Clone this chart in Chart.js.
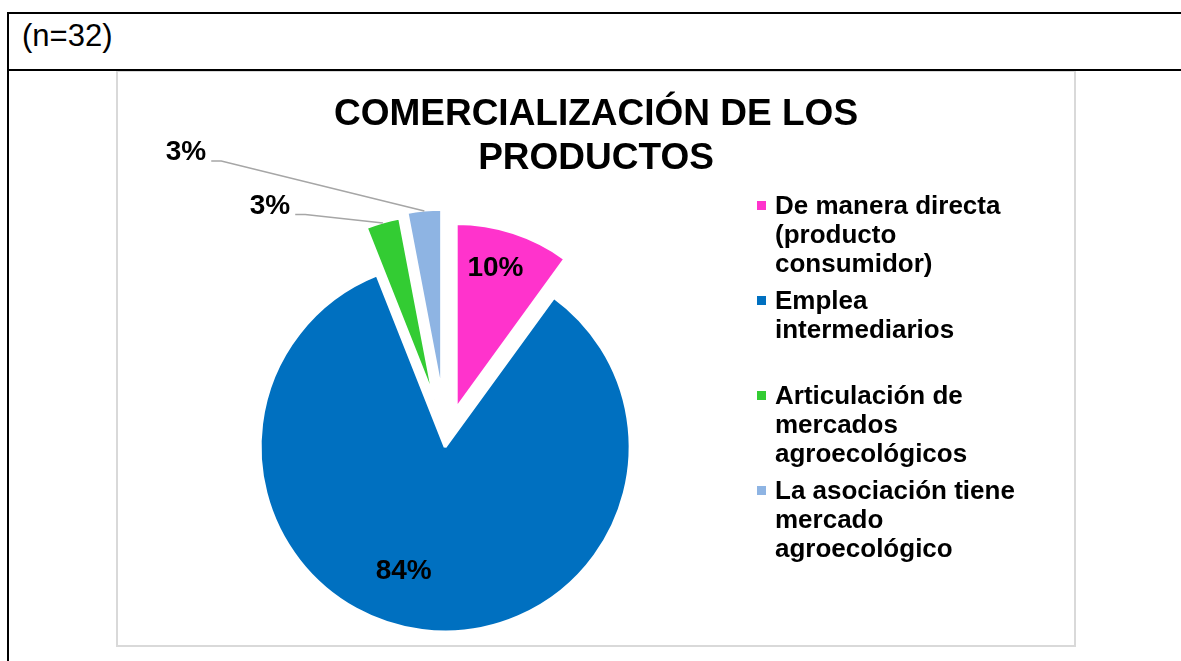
<!DOCTYPE html>
<html>
<head>
<meta charset="utf-8">
<title>Comercialización de los productos</title>
<script src="https://cdn.jsdelivr.net/npm/chart.js@4.4.1/dist/chart.umd.min.js"></script>
<style>
    body { margin: 0; background: #fff; font-family: "Liberation Sans", Arial, sans-serif; }
    #page { position: relative; width: 1181px; height: 661px; overflow: hidden; }
    .rule { position: absolute; background: #000; z-index: 2; }
    #n { position: absolute; left: 22px; top: 20px; font-size: 31px; line-height: 31px; }
    #box { position: absolute; left: 116px; top: 70px; width: 956px; height: 573px; border: 2px solid #d9d9d9; }
    #chartWrap { position: absolute; left: 0; top: 0; width: 956px; height: 573px; }
    #title { position: absolute; left: 0; top: 19px; width: 956px; text-align: center;
        font-weight: bold; font-size: 37px; line-height: 44.4px; color: #000; }
    #legend { position: absolute; left: 639px; top: 118.5px; width: 300px; }
    .item { position: relative; height: 95.3px; padding-left: 18px; }
    .swatch { position: absolute; left: 0; top: 10px; width: 9px; height: 9px; }
    .text { width: 262px; font-size: 26px; font-weight: bold; line-height: 29px; color: #000; }
</style>
</head>
<body>
<div id="page">
    <div class="rule" style="left:7px; top:12px; width:1174px; height:2px;"></div>
    <div class="rule" style="left:7px; top:12px; width:2px; height:649px;"></div>
    <div class="rule" style="left:7px; top:69px; width:1174px; height:2px;"></div>
    <div id="n">(n=32)</div>
    <div id="box">
        <div id="chartWrap"><canvas id="pie"></canvas></div>
        <div id="title"></div>
        <div id="legend"></div>
    </div>
</div>
<script>
const categories = [
    'De manera directa (producto consumidor)',
    'Emplea intermediarios',
    'Articulación de mercados agroecológicos',
    'La asociación tiene mercado agroecológico'
];
const percentages = [10, 84, 3, 3];
const sliceColors = ['#FF33CC', '#0070C0', '#33CC33', '#8EB4E3'];
const titleLines = ['COMERCIALIZACIÓN DE LOS', 'PRODUCTOS'];

// how far each slice is pulled out of the pie (px)
const explode = [33, 7, 42, 46];
// label placement: turn from the slice middle (deg) and distance in radii
const labelTurn = [-2.4, 11.2, -24.1, -41.2];
const labelDist = [0.79, 0.71, 1.373, 1.902];
const hasLeader = [false, false, true, true];

// title
const title = document.getElementById('title');
titleLines.forEach(line => {
    const div = document.createElement('div');
    div.textContent = line;
    title.appendChild(div);
});

// legend
const legend = document.getElementById('legend');
categories.forEach((name, i) => {
    const item = document.createElement('div');
    item.classList.add('item');
    const swatch = document.createElement('span');
    swatch.classList.add('swatch');
    swatch.style.background = sliceColors[i];
    const text = document.createElement('div');
    text.classList.add('text');
    text.textContent = name;
    item.append(swatch, text);
    legend.appendChild(item);
});

const explodePlugin = {
    id: 'explode',
    afterDatasetsUpdate(chart) {
        chart.getDatasetMeta(0).data.forEach((arc, i) => {
            const mid = (arc.startAngle + arc.endAngle) / 2;
            arc.x += Math.cos(mid) * explode[i];
            arc.y += Math.sin(mid) * explode[i];
        });
    }
};

const labelPlugin = {
    id: 'sliceLabels',
    afterDatasetsDraw(chart) {
        const ctx = chart.ctx;
        ctx.save();
        ctx.font = 'bold 28px "Liberation Sans", Arial, sans-serif';
        ctx.textAlign = 'center';
        ctx.textBaseline = 'middle';
        chart.getDatasetMeta(0).data.forEach((arc, i) => {
            const r = arc.outerRadius;
            const mid = (arc.startAngle + arc.endAngle) / 2;
            const a = mid + labelTurn[i] * Math.PI / 180;
            const lx = arc.x + Math.cos(a) * r * labelDist[i];
            const ly = arc.y + Math.sin(a) * r * labelDist[i];
            const text = percentages[i] + '%';
            if (hasLeader[i]) {
                const w = ctx.measureText(text).width;
                const sx = lx + w / 2 + 5;
                const sy = ly + 8.5;
                ctx.strokeStyle = '#a6a6a6';
                ctx.lineWidth = 1.5;
                ctx.beginPath();
                ctx.moveTo(sx, sy);
                ctx.lineTo(sx + 10, sy);
                ctx.lineTo(arc.x + Math.cos(mid) * (r - 1), arc.y + Math.sin(mid) * (r - 1));
                ctx.stroke();
            }
            ctx.fillStyle = '#000';
            ctx.fillText(text, lx, ly);
        });
        ctx.restore();
    }
};

new Chart(document.getElementById('pie'), {
    type: 'pie',
    data: {
        labels: categories,
        datasets: [{
            data: percentages,
            backgroundColor: sliceColors,
            borderColor: '#ffffff',
            borderWidth: 3,
            radius: 185,
            clip: false
        }]
    },
    options: {
        responsive: true,
        maintainAspectRatio: false,
        animation: false,
        events: [],
        radius: 185,
        layout: { padding: { left: 0, right: 300, top: 163, bottom: 0 } },
        plugins: {
            legend: { display: false },
            title: { display: false },
            tooltip: { enabled: false }
        }
    },
    plugins: [explodePlugin, labelPlugin]
});
</script>
</body>
</html>
